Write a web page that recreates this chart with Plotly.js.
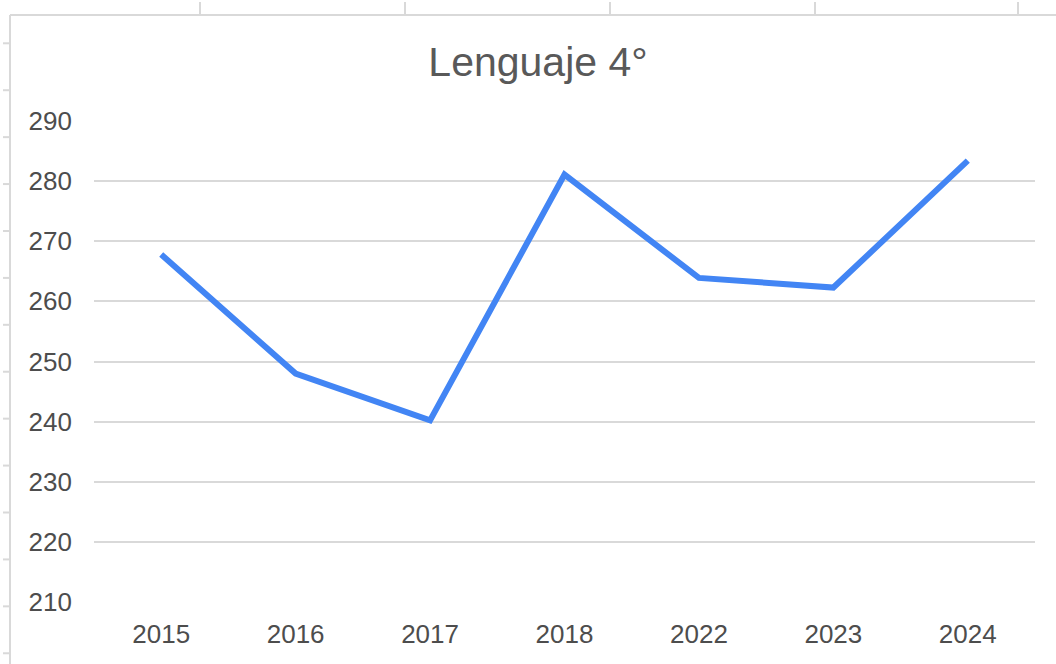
<!DOCTYPE html>
<html>
<head>
<meta charset="utf-8">
<script src="https://cdn.plot.ly/plotly-3.0.1.min.js"></script>
<style>
  html, body { margin: 0; padding: 0; background: #ffffff; }
  #chart { width: 1056px; height: 664px; }
</style>
</head>
<body>
<div id="chart"></div>
<script>
// ---- data ----
const years = ['2015', '2016', '2017', '2018', '2022', '2023', '2024'];
const scores = [267.8, 248.0, 240.2, 281.1, 263.9, 262.3, 283.4];
const yTickValues = [210, 220, 230, 240, 250, 260, 270, 280, 290];
const chartTitle = 'Lenguaje 4°';

// ---- layout helpers (pixel -> paper, for the spreadsheet frame decoration) ----
const W = 1056, H = 664;
const M = { l: 94, r: 21, t: 121, b: 62 };
const PW = W - M.l - M.r, PH = H - M.t - M.b;
const px = x => (x - M.l) / PW;
const py = y => (H - M.b - y) / PH;

const frameColor = '#d9d9d9';
const shapes = [];
function seg(x0, y0, x1, y1) {
  shapes.push({ type: 'line', xref: 'paper', yref: 'paper',
    x0: px(x0), y0: py(y0), x1: px(x1), y1: py(y1),
    line: { color: frameColor, width: 2 }, layer: 'below' });
}
// top border & left border
seg(10, 15, W, 15);
seg(10, 15, 10, H);
// column tick marks on top border
[200, 405, 610, 815, 1018].forEach(x => seg(x, 2, x, 15));
// row tick marks on left border
for (let i = 0; i < 14; i++) {
  const y = 43.3 + 46.92 * i;
  seg(3, y, 10, y);
}

const trace = {
  type: 'scatter',
  mode: 'lines',
  x: years,
  y: scores,
  line: { color: '#4285F4', width: 6 },
  hoverinfo: 'x+y'
};

const layout = {
  width: W, height: H,
  margin: M,
  paper_bgcolor: '#ffffff',
  plot_bgcolor: '#ffffff',
  showlegend: false,
  font: { family: 'Liberation Sans, Arial, sans-serif', color: '#4d4d4d' },
  title: {
    text: chartTitle,
    font: { family: 'Liberation Sans, Arial, sans-serif', size: 41, color: '#595959' },
    x: 538 / W, xanchor: 'center', xref: 'container',
    y: 1 - 62 / H, yanchor: 'middle', yref: 'container'
  },
  xaxis: {
    type: 'category',
    range: [-0.5, years.length - 0.5],
    showgrid: false, zeroline: false, showline: false,
    ticks: '',
    tickfont: { size: 26, color: '#4d4d4d' },
    ticklabelstandoff: 14,
    fixedrange: true
  },
  yaxis: {
    range: [210, 290],
    tickvals: yTickValues,
    ticktext: yTickValues.map(String),
    showgrid: true, gridcolor: '#d9d9d9', gridwidth: 2,
    zeroline: false, showline: false,
    ticks: '',
    tickfont: { size: 26, color: '#4d4d4d' },
    ticklabelstandoff: 21,
    fixedrange: true
  },
  shapes: shapes
};

Plotly.newPlot('chart', [trace], layout, { displayModeBar: false, staticPlot: true });
</script>
</body>
</html>
